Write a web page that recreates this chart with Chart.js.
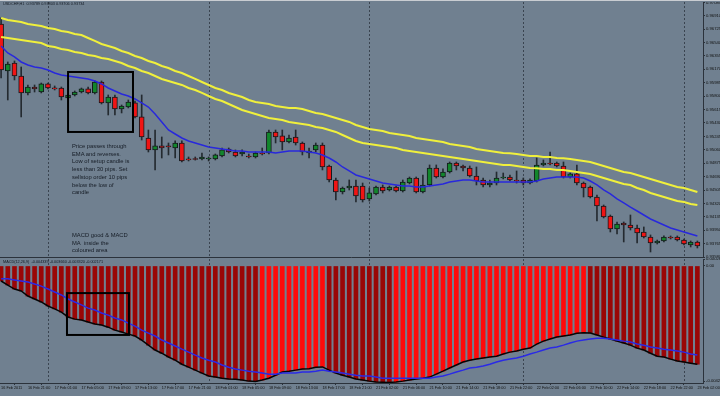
<!DOCTYPE html>
<html>
<head>
<meta charset="utf-8">
<script src="https://cdn.jsdelivr.net/npm/chart.js@4.4.1/dist/chart.umd.min.js"></script>
<style>
  html, body { margin:0; padding:0; }
  body { width:720px; height:396px; background:#708090; position:relative; overflow:hidden; font-family:"Liberation Sans", Arial, sans-serif; }
  #topline { position:absolute; left:0; top:0; width:720px; height:1px; background:#c9cdd2; }
  #price { position:absolute; left:0; top:2px; }
  #macd { position:absolute; left:0; top:258px; }
  .lbl { position:absolute; color:#141a24; white-space:nowrap; line-height:1; font-size:3.8px; }
  .note { position:absolute; color:#161c26; font-size:5.8px; line-height:7.7px; white-space:nowrap; }
</style>
</head>
<body>
<div id="topline"></div>
<canvas id="price" width="720" height="256"></canvas>
<canvas id="macd" width="720" height="138"></canvas>
<div class="lbl" style="left:3px;top:3px">USDCHF,H1&nbsp; 0.93789 0.93803 0.93706 0.93734</div>
<div class="lbl" style="left:3px;top:261px">MACD(12,26,9)&nbsp; -0.004339 -0.003660 -0.003320 -0.002171</div>
<div class="note" style="left:72px;top:143px">Price passes through<br>EMA and reverses.<br>Low of setup candle is<br>less than 30 pips. Set<br>sellstop order 10 pips<br>below the low of<br>candle</div>
<div class="note" style="left:72px;top:232px">MACD good &amp; MACD<br>MA&nbsp; inside the<br>coloured area</div>
<script>
// hourly bars, 16 Feb 2011 17:00 -> 23 Feb 2011 02:00
const timeLabels = ['16 Feb 2011','16 Feb 21:00','17 Feb 01:00','17 Feb 05:00','17 Feb 09:00','17 Feb 13:00','17 Feb 17:00','17 Feb 21:00',
  '18 Feb 01:00','18 Feb 05:00','18 Feb 09:00','18 Feb 13:00','18 Feb 17:00','18 Feb 21:00','21 Feb 02:00','21 Feb 06:00',
  '21 Feb 10:00','21 Feb 14:00','21 Feb 18:00','21 Feb 22:00','22 Feb 02:00','22 Feb 06:00','22 Feb 10:00','22 Feb 14:00',
  '22 Feb 18:00','22 Feb 22:00','23 Feb 02:00'];
const separators = [7, 31, 55, 78, 102];

const openP = [0.96795,0.96147,0.96257,0.96078,0.95844,0.95926,0.95857,0.95968,0.95912,0.95912,
  0.95775,0.95816,0.95857,0.95899,0.95844,0.95995,0.95706,0.95788,0.95623,0.95650,
  0.95706,0.95513,0.95223,0.95058,0.95113,0.95113,0.95085,0.95154,0.94933,0.94930,
  0.94933,0.94933,0.94933,0.94975,0.95071,0.95030,0.95002,0.94975,0.94961,0.95016,
  0.95016,0.95306,0.95251,0.95168,0.95237,0.95154,0.95016,0.95058,0.95126,0.94837,
  0.94644,0.94478,0.94533,0.94561,0.94561,0.94382,0.94451,0.94547,0.94506,0.94547,
  0.94492,0.94602,0.94671,0.94478,0.94575,0.94809,0.94685,0.94754,0.94878,0.94837,
  0.94809,0.94699,0.94644,0.94575,0.94602,0.94671,0.94685,0.94644,0.94644,0.94602,
  0.94630,0.94851,0.94878,0.94878,0.94837,0.94685,0.94727,0.94602,0.94547,0.94409,
  0.94285,0.94147,0.93968,0.94051,0.94023,0.93982,0.93927,0.93858,0.93775,0.93803,
  0.93858,0.93858,0.93816,0.93747,0.93789];
const highP = [0.96878,0.96271,0.96285,0.96202,0.95954,0.95954,0.95981,0.95981,0.95940,0.95926,
  0.95830,0.95871,0.95912,0.95926,0.96009,0.96009,0.95816,0.95816,0.95678,0.95747,
  0.95733,0.95816,0.95333,0.95333,0.95237,0.95154,0.95182,0.95182,0.94961,0.94961,
  0.95016,0.94961,0.95002,0.95085,0.95085,0.95058,0.95058,0.95002,0.95030,0.95085,
  0.95333,0.95333,0.95333,0.95264,0.95333,0.95168,0.95085,0.95154,0.95154,0.94851,
  0.94671,0.94547,0.94644,0.94644,0.94602,0.94533,0.94561,0.94575,0.94561,0.94561,
  0.94644,0.94685,0.94685,0.94713,0.94851,0.94851,0.94796,0.94892,0.94892,0.94851,
  0.94837,0.94823,0.94671,0.94644,0.94754,0.94740,0.94713,0.94768,0.94671,0.94658,
  0.94947,0.94920,0.95030,0.94892,0.94892,0.94740,0.94851,0.94616,0.94561,0.94437,
  0.94299,0.94161,0.94065,0.94065,0.94161,0.94023,0.93996,0.93886,0.93816,0.93872,
  0.93872,0.93872,0.93830,0.93803,0.93803];
const lowP = [0.96050,0.95747,0.96023,0.95513,0.95816,0.95857,0.95844,0.95899,0.95885,0.95747,
  0.95761,0.95802,0.95844,0.95830,0.95830,0.95692,0.95540,0.95540,0.95568,0.95637,
  0.95499,0.95195,0.95030,0.94782,0.94947,0.94989,0.94947,0.94892,0.94906,0.94918,
  0.94920,0.94906,0.94920,0.94961,0.95016,0.94961,0.94975,0.94947,0.94947,0.94989,
  0.95002,0.95154,0.95058,0.95154,0.95126,0.94989,0.94947,0.95030,0.94782,0.94616,
  0.94368,0.94451,0.94506,0.94340,0.94340,0.94354,0.94437,0.94465,0.94492,0.94478,
  0.94478,0.94589,0.94465,0.94465,0.94561,0.94671,0.94671,0.94740,0.94782,0.94768,
  0.94685,0.94575,0.94547,0.94547,0.94575,0.94658,0.94630,0.94602,0.94575,0.94589,
  0.94616,0.94837,0.94851,0.94823,0.94671,0.94671,0.94575,0.94409,0.94396,0.94078,
  0.94120,0.93927,0.93899,0.93789,0.93954,0.93775,0.93844,0.93651,0.93761,0.93789,
  0.93830,0.93803,0.93747,0.93720,0.93706];
const closeP = [0.96161,0.96243,0.96078,0.95844,0.95926,0.95899,0.95968,0.95912,0.95899,0.95788,
  0.95816,0.95857,0.95899,0.95844,0.95995,0.95706,0.95788,0.95623,0.95664,0.95719,
  0.95513,0.95237,0.95058,0.95113,0.95085,0.95099,0.95154,0.94906,0.94920,0.94926,
  0.94961,0.94947,0.94989,0.95058,0.95030,0.94975,0.95030,0.94961,0.95016,0.95002,
  0.95306,0.95237,0.95168,0.95223,0.95154,0.95030,0.95044,0.95126,0.94823,0.94644,
  0.94478,0.94533,0.94561,0.94423,0.94368,0.94465,0.94547,0.94492,0.94547,0.94492,
  0.94616,0.94671,0.94478,0.94575,0.94809,0.94685,0.94754,0.94878,0.94837,0.94809,
  0.94699,0.94630,0.94575,0.94602,0.94671,0.94685,0.94644,0.94630,0.94602,0.94644,
  0.94851,0.94878,0.94864,0.94837,0.94685,0.94727,0.94602,0.94533,0.94409,0.94285,
  0.94134,0.93968,0.94037,0.94023,0.93982,0.93913,0.93858,0.93775,0.93803,0.93858,
  0.93844,0.93816,0.93761,0.93789,0.93734];

// blue EMA and the two yellow bands
const emaLine = [0.96492,0.96395,0.96340,0.96271,0.96230,0.96202,0.96188,0.96161,0.96119,0.96092,
  0.96078,0.96064,0.96050,0.96037,0.96009,0.95968,0.95912,0.95871,0.95830,0.95802,
  0.95761,0.95706,0.95650,0.95554,0.95444,0.95333,0.95278,0.95223,0.95182,0.95154,
  0.95126,0.95099,0.95085,0.95071,0.95058,0.95044,0.95043,0.95030,0.95029,0.95028,
  0.95030,0.95016,0.95030,0.95044,0.95045,0.95044,0.95030,0.95016,0.94989,0.94947,
  0.94892,0.94823,0.94768,0.94713,0.94685,0.94658,0.94630,0.94602,0.94589,0.94575,
  0.94561,0.94560,0.94547,0.94548,0.94561,0.94575,0.94589,0.94616,0.94630,0.94644,
  0.94645,0.94630,0.94616,0.94617,0.94616,0.94615,0.94616,0.94617,0.94616,0.94615,
  0.94630,0.94658,0.94671,0.94685,0.94686,0.94685,0.94684,0.94671,0.94630,0.94575,
  0.94506,0.94451,0.94382,0.94327,0.94271,0.94216,0.94161,0.94106,0.94065,0.94023,
  0.93982,0.93954,0.93927,0.93899,0.93872];
const upperBand = [0.96878,0.96850,0.96836,0.96823,0.96795,0.96781,0.96767,0.96740,0.96726,0.96699,
  0.96685,0.96657,0.96643,0.96602,0.96561,0.96519,0.96492,0.96464,0.96423,0.96395,
  0.96354,0.96326,0.96285,0.96257,0.96216,0.96188,0.96147,0.96119,0.96078,0.96037,
  0.95995,0.95954,0.95912,0.95885,0.95844,0.95816,0.95788,0.95747,0.95719,0.95706,
  0.95692,0.95664,0.95650,0.95637,0.95635,0.95623,0.95595,0.95568,0.95554,0.95526,
  0.95499,0.95471,0.95444,0.95402,0.95375,0.95347,0.95333,0.95320,0.95292,0.95278,
  0.95264,0.95251,0.95223,0.95209,0.95195,0.95182,0.95168,0.95140,0.95126,0.95113,
  0.95099,0.95071,0.95058,0.95044,0.95030,0.95016,0.95014,0.95002,0.94989,0.94975,
  0.94973,0.94961,0.94959,0.94947,0.94945,0.94933,0.94920,0.94906,0.94892,0.94864,
  0.94837,0.94809,0.94782,0.94754,0.94740,0.94713,0.94685,0.94658,0.94630,0.94602,
  0.94575,0.94547,0.94533,0.94506,0.94478];
const lowerBand = [0.96616,0.96602,0.96588,0.96574,0.96561,0.96547,0.96533,0.96492,0.96478,0.96450,
  0.96437,0.96409,0.96395,0.96368,0.96354,0.96326,0.96312,0.96285,0.96257,0.96216,
  0.96188,0.96147,0.96119,0.96078,0.96037,0.96009,0.95981,0.95954,0.95912,0.95885,
  0.95844,0.95802,0.95761,0.95733,0.95692,0.95650,0.95609,0.95582,0.95554,0.95526,
  0.95499,0.95485,0.95471,0.95444,0.95430,0.95416,0.95402,0.95375,0.95361,0.95333,
  0.95306,0.95264,0.95223,0.95182,0.95154,0.95140,0.95126,0.95113,0.95099,0.95085,
  0.95058,0.95044,0.95030,0.95016,0.95002,0.94989,0.94975,0.94961,0.94947,0.94933,
  0.94920,0.94906,0.94892,0.94878,0.94864,0.94851,0.94849,0.94837,0.94823,0.94809,
  0.94807,0.94796,0.94794,0.94782,0.94780,0.94768,0.94754,0.94740,0.94727,0.94699,
  0.94671,0.94644,0.94616,0.94589,0.94575,0.94533,0.94506,0.94465,0.94437,0.94409,
  0.94382,0.94354,0.94340,0.94313,0.94299];

// MACD panel
const macdHist = [-0.00056,-0.00071,-0.00086,-0.00093,-0.00112,-0.00123,-0.00134,-0.00149,-0.00160,-0.00172,
  -0.00190,-0.00198,-0.00201,-0.00209,-0.00216,-0.00220,-0.00228,-0.00239,-0.00246,-0.00254,
  -0.00261,-0.00276,-0.00295,-0.00313,-0.00325,-0.00339,-0.00351,-0.00366,-0.00377,-0.00388,
  -0.00399,-0.00410,-0.00414,-0.00418,-0.00421,-0.00422,-0.00425,-0.00429,-0.00430,-0.00425,
  -0.00418,-0.00407,-0.00395,-0.00392,-0.00388,-0.00384,-0.00383,-0.00377,-0.00376,-0.00388,
  -0.00399,-0.00407,-0.00414,-0.00421,-0.00425,-0.00429,-0.00432,-0.00433,-0.00434,-0.00432,
  -0.00429,-0.00425,-0.00421,-0.00418,-0.00414,-0.00403,-0.00392,-0.00380,-0.00369,-0.00358,
  -0.00351,-0.00347,-0.00343,-0.00339,-0.00336,-0.00328,-0.00321,-0.00317,-0.00310,-0.00306,
  -0.00291,-0.00280,-0.00272,-0.00265,-0.00261,-0.00257,-0.00251,-0.00249,-0.00250,-0.00257,
  -0.00265,-0.00272,-0.00280,-0.00287,-0.00295,-0.00306,-0.00313,-0.00325,-0.00336,-0.00339,
  -0.00347,-0.00354,-0.00358,-0.00362,-0.00366];
const macdSignal = [-0.00048,-0.00048,-0.00052,-0.00056,-0.00060,-0.00067,-0.00075,-0.00086,-0.00097,-0.00108,
  -0.00123,-0.00134,-0.00145,-0.00157,-0.00164,-0.00175,-0.00183,-0.00194,-0.00201,-0.00213,
  -0.00224,-0.00239,-0.00250,-0.00261,-0.00276,-0.00287,-0.00298,-0.00310,-0.00321,-0.00332,
  -0.00343,-0.00351,-0.00358,-0.00369,-0.00377,-0.00384,-0.00388,-0.00392,-0.00395,-0.00399,
  -0.00403,-0.00403,-0.00399,-0.00399,-0.00399,-0.00395,-0.00395,-0.00392,-0.00388,-0.00392,
  -0.00395,-0.00399,-0.00403,-0.00407,-0.00410,-0.00410,-0.00414,-0.00418,-0.00418,-0.00418,
  -0.00418,-0.00418,-0.00418,-0.00418,-0.00418,-0.00414,-0.00410,-0.00403,-0.00395,-0.00388,
  -0.00380,-0.00377,-0.00373,-0.00366,-0.00358,-0.00351,-0.00347,-0.00343,-0.00336,-0.00328,
  -0.00321,-0.00313,-0.00306,-0.00302,-0.00295,-0.00287,-0.00280,-0.00276,-0.00272,-0.00269,
  -0.00269,-0.00272,-0.00276,-0.00280,-0.00283,-0.00291,-0.00295,-0.00302,-0.00306,-0.00310,
  -0.00313,-0.00317,-0.00321,-0.00328,-0.00332];

const priceTicks = [0.93580,0.93765,0.93950,0.94135,0.94320,0.94505,0.94690,0.94875,0.95060,0.95245,
  0.95430,0.95615,0.95800,0.95985,0.96170,0.96355,0.96540,0.96725,0.96910,0.97085];
const macdTicks = [0.00026, 0, -0.00429];
const macdTickLabels = ['0.00026', '0.00', '-0.00429'];

const xMin = -0.164, xMax = 104.84;
const idx = openP.map((_, i) => i);
const pts = arr => arr.map((v, i) => ({x: i, y: v}));

// day separators behind the data, marked boxes on top
const overlay = {
  id: 'overlay',
  beforeDatasetsDraw(chart) {
    const {ctx, chartArea: a, scales: {x}} = chart;
    ctx.save();
    ctx.strokeStyle = '#3a4450';
    ctx.lineWidth = 1;
    ctx.setLineDash([2, 2]);
    separators.forEach(b => {
      const px = Math.round(x.getPixelForValue(b)) + 0.5;
      ctx.beginPath(); ctx.moveTo(px, a.top); ctx.lineTo(px, a.bottom); ctx.stroke();
    });
    ctx.restore();
  },
  afterDatasetsDraw(chart, args, opts) {
    const {ctx, chartArea: a, scales: {x, y}} = chart;
    ctx.save();
    ctx.strokeStyle = '#000';
    ctx.lineWidth = 2;
    (opts.boxes || []).forEach(bx => {
      const x0 = x.getPixelForValue(bx[0]), x1 = x.getPixelForValue(bx[1]);
      const y0 = y.getPixelForValue(bx[2]), y1 = y.getPixelForValue(bx[3]);
      ctx.strokeRect(x0, y0, x1 - x0, y1 - y0);
    });
    if (opts.bottomLine) {
      ctx.strokeStyle = '#2b323b';
      ctx.lineWidth = 1;
      ctx.beginPath(); ctx.moveTo(a.left, a.bottom - 0.5); ctx.lineTo(a.right, a.bottom - 0.5); ctx.stroke();
    }
    ctx.restore();
  }
};

const axisColor = '#2b323b';
const tickFont = {family: 'Liberation Sans', size: 4.2};

new Chart(document.getElementById('price'), {
  type: 'bar',
  data: {
    datasets: [
      {type: 'line', data: pts(upperBand), borderColor: '#f0f03c', borderWidth: 2, pointRadius: 0, order: 0},
      {type: 'line', data: pts(lowerBand), borderColor: '#f0f03c', borderWidth: 2, pointRadius: 0, order: 0},
      {type: 'line', data: pts(emaLine), borderColor: '#2828dc', borderWidth: 1.5, pointRadius: 0, order: 0},
      {data: idx.map(i => ({x: i, y: [openP[i], closeP[i]]})),
       backgroundColor: idx.map(i => closeP[i] >= openP[i] ? '#12862c' : '#f01414'),
       borderColor: '#15191d', borderWidth: 1, borderSkipped: false,
       barThickness: 5, minBarLength: 1, grouped: false, order: 1},
      {data: idx.map(i => ({x: i, y: [lowP[i], highP[i]]})),
       backgroundColor: '#242a30', barThickness: 1, grouped: false, order: 2}
    ]
  },
  options: {
    responsive: false, animation: false, devicePixelRatio: 1,
    layout: {padding: 0, autoPadding: false},
    plugins: {
      legend: {display: false}, tooltip: {enabled: false},
      overlay: {boxes: [[10.0, 19.7, 0.96133, 0.95306]], bottomLine: true}
    },
    scales: {
      x: {type: 'linear', min: xMin, max: xMax, offset: false, bounds: 'data',
          grid: {display: false}, border: {display: false}, ticks: {display: false},
          afterFit(s) { s.height = 0; s.paddingLeft = 0; s.paddingRight = 0; }},
      y: {position: 'right', min: 0.93568, max: 0.97098,
          grid: {display: true, drawOnChartArea: false, tickLength: 2, color: axisColor},
          border: {display: true, color: axisColor},
          ticks: {font: tickFont, color: '#111', padding: 1, callback: v => v.toFixed(5)},
          afterBuildTicks(s) { s.ticks = priceTicks.map(v => ({value: v})); },
          afterFit(s) { s.width = 17; s.paddingTop = 0; s.paddingBottom = 0; }}
    }
  },
  plugins: [overlay]
});

new Chart(document.getElementById('macd'), {
  type: 'bar',
  data: {
    datasets: [
      {type: 'line', data: pts(macdSignal), borderColor: '#2a2ae6', borderWidth: 1.5, pointRadius: 0, order: 0},
      {type: 'line', data: pts(macdHist), borderColor: '#050505', borderWidth: 1.5, pointRadius: 0, order: 0},
      {data: pts(macdHist),
       backgroundColor: macdHist.map((v, i) => i > 0 && v > macdHist[i - 1] ? '#ff0a0a' : '#9a0606'),
       barThickness: 4, grouped: false, order: 1}
    ]
  },
  options: {
    responsive: false, animation: false, devicePixelRatio: 1,
    layout: {padding: {top: 1}, autoPadding: false},
    plugins: {
      legend: {display: false}, tooltip: {enabled: false},
      overlay: {boxes: [[9.84, 19.1, -0.00101, -0.00257]]}
    },
    scales: {
      x: {type: 'linear', min: xMin, max: xMax, offset: false, bounds: 'data', position: 'bottom',
          grid: {display: true, drawOnChartArea: false, tickLength: 2, color: axisColor},
          border: {display: true, color: axisColor},
          ticks: {font: {family: 'Liberation Sans', size: 3.8}, color: '#111', align: 'start', maxRotation: 0,
                  autoSkip: false, padding: 1, callback: v => timeLabels[Math.round(v / 4)]},
          afterBuildTicks(s) { s.ticks = timeLabels.map((_, k) => ({value: k * 4})); },
          afterFit(s) { s.height = 13; s.paddingLeft = 0; s.paddingRight = 0; }},
      y: {position: 'right', min: -0.00436, max: 0.00026,
          grid: {display: true, drawOnChartArea: false, tickLength: 2, color: axisColor},
          border: {display: true, color: axisColor},
          ticks: {font: tickFont, color: '#111', padding: 1,
                  callback: v => macdTickLabels[macdTicks.indexOf(v)]},
          afterBuildTicks(s) { s.ticks = macdTicks.map(v => ({value: v})); },
          afterFit(s) { s.width = 17; s.paddingTop = 0; s.paddingBottom = 0; }}
    }
  },
  plugins: [overlay]
});
</script>
</body>
</html>
